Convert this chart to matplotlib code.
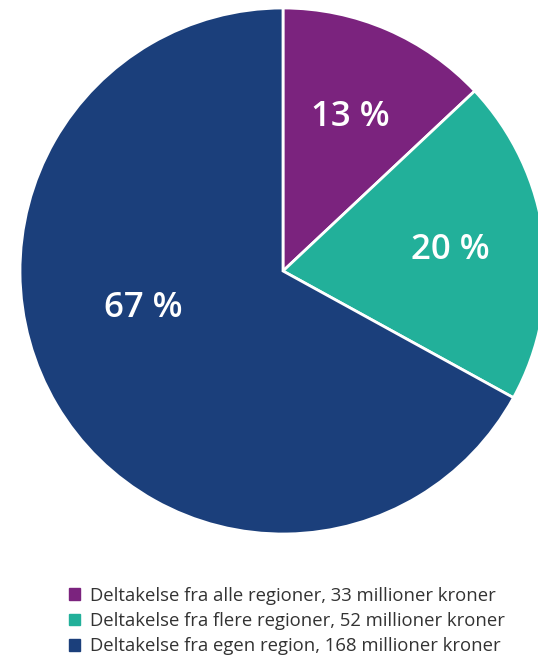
import numpy as np
import matplotlib.pyplot as plt
from matplotlib.patches import Patch

plt.rcParams['font.family'] = ['Open Sans', 'DejaVu Sans']

shares = [13, 20, 67]
amounts = [33, 52, 168]
labels = ['Deltakelse fra alle regioner', 'Deltakelse fra flere regioner',
          'Deltakelse fra egen region']
colors = ['#7b237e', '#22b09a', '#1b3f7b']

fig = plt.figure(figsize=(5.38, 6.65), dpi=100)
ax = fig.add_axes([20/538, 131/665, 526/538, 526/665])

wedges, texts, autotexts = ax.pie(
    shares, colors=colors, startangle=90, counterclock=False,
    autopct=lambda p: f'{p:.0f} %', pctdistance=0.64,
    wedgeprops=dict(edgecolor='white', linewidth=2))
for t in autotexts:
    t.set_color('white')
    t.set_fontsize(25)
    t.set_fontweight('semibold')
# big slice label sits a bit higher than its wedge middle
autotexts[2].set_position((-0.53, -0.14))
ax.set_xlim(-1, 1)
ax.set_ylim(-1, 1)
ax.set_aspect('equal')

handles = [Patch(color=c) for c in colors]
leg_labels = [f'{l}, {a} millioner kroner' for l, a in zip(labels, amounts)]
fig.legend(handles, leg_labels, loc='upper left', bbox_to_anchor=(52/538, 1 - 570/665),
           frameon=False, fontsize=13.3, handlelength=0.6, handleheight=0.6,
           handletextpad=0.55, labelspacing=0.4, labelcolor='#333333')

plt.savefig('out.png', dpi=100)
